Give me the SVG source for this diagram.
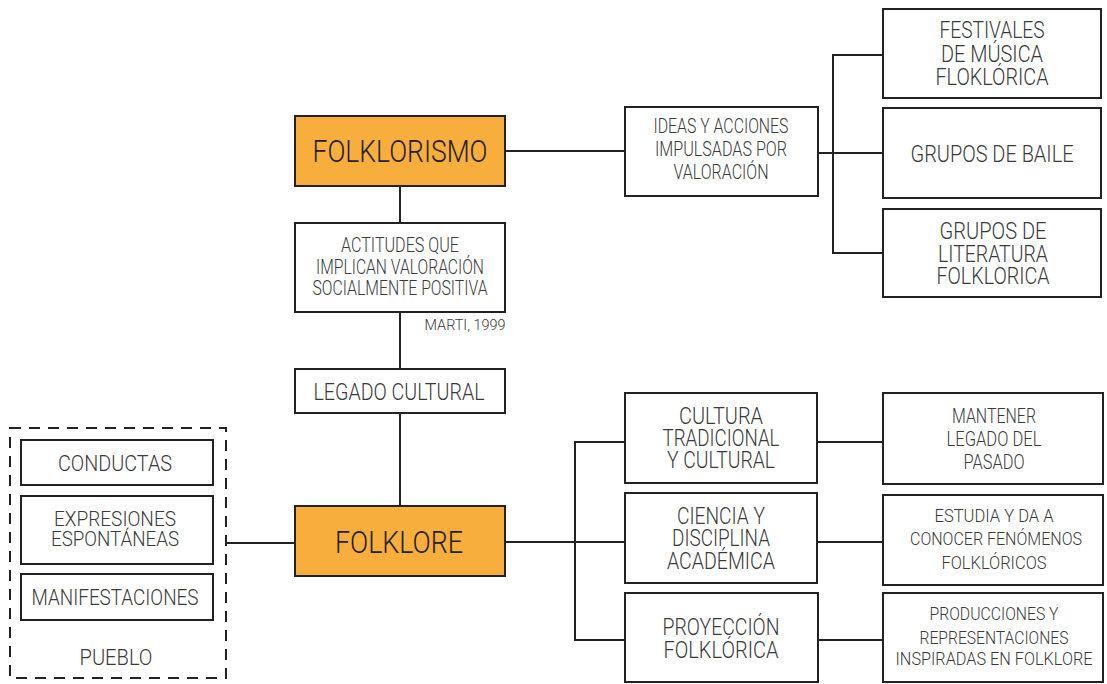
<svg xmlns="http://www.w3.org/2000/svg" width="1107" height="684" viewBox="0 0 1107 684">
  <style>
    .box { fill: #ffffff; stroke: #222222; stroke-width: 2; }
    .main { fill: #f8ae3d; stroke: #222222; stroke-width: 2; }
    .dash { fill: none; stroke: #222222; stroke-width: 2; stroke-dasharray: 11 8; }
    .link { fill: none; stroke: #222222; stroke-width: 2; }
    text { font-family: Roboto, "Liberation Sans", sans-serif; font-weight: 300; fill: #3a3a3a; text-anchor: middle; }
    .t32 { font-size: 32px; fill: #1e1e1e; }
    .t24 { font-size: 24px; }
    .t23 { font-size: 23px; }
    .t22 { font-size: 22px; }
    .t21 { font-size: 21px; }
    .t20 { font-size: 20px; }
    .t19 { font-size: 19px; }
    .t14 { font-size: 14px; }
  </style>

  <!-- connectors -->
  <g id="connectors">
    <line class="link" x1="400" y1="186" x2="400" y2="223"/>
    <line class="link" x1="400" y1="312" x2="400" y2="369"/>
    <line class="link" x1="400" y1="413" x2="400" y2="506"/>
    <line class="link" x1="505" y1="151" x2="625" y2="151"/>
    <polyline class="link" points="818,153 883,153"/>
    <polyline class="link" points="883,55 833,55 833,253 883,253"/>
    <line class="link" x1="226" y1="543" x2="295" y2="543"/>
    <line class="link" x1="505" y1="542" x2="625" y2="542"/>
    <polyline class="link" points="625,442 575,442 575,640 625,640"/>
    <line class="link" x1="818" y1="442" x2="883" y2="442"/>
    <line class="link" x1="818" y1="542" x2="883" y2="542"/>
    <line class="link" x1="818" y1="640" x2="883" y2="640"/>
  </g>

  <g id="folklorismo">
    <rect class="main" x="295" y="116" width="210" height="70"/>
    <text class="t32" x="400" y="162" textLength="175" lengthAdjust="spacingAndGlyphs">FOLKLORISMO</text>
  </g>

  <g id="actitudes">
    <rect class="box" x="295" y="223" width="210" height="89"/>
    <text class="t20" x="400" y="252" textLength="118" lengthAdjust="spacingAndGlyphs">ACTITUDES QUE</text>
    <text class="t20" x="400" y="274" textLength="168" lengthAdjust="spacingAndGlyphs">IMPLICAN VALORACIÓN</text>
    <text class="t20" x="400" y="295" textLength="175" lengthAdjust="spacingAndGlyphs">SOCIALMENTE POSITIVA</text>
    <text class="t14" x="465" y="330" textLength="81" lengthAdjust="spacingAndGlyphs">MARTI, 1999</text>
  </g>

  <g id="legado">
    <rect class="box" x="295" y="369" width="210" height="44"/>
    <text class="t24" x="399" y="400" textLength="171" lengthAdjust="spacingAndGlyphs">LEGADO CULTURAL</text>
  </g>

  <g id="folklore">
    <rect class="main" x="295" y="506" width="210" height="70"/>
    <text class="t32" x="399" y="553" textLength="128" lengthAdjust="spacingAndGlyphs">FOLKLORE</text>
  </g>

  <g id="ideas">
    <rect class="box" x="625" y="107" width="193" height="89"/>
    <text class="t20" x="721" y="133" textLength="135" lengthAdjust="spacingAndGlyphs">IDEAS Y ACCIONES</text>
    <text class="t20" x="721" y="156" textLength="132" lengthAdjust="spacingAndGlyphs">IMPULSADAS POR</text>
    <text class="t20" x="721" y="179" textLength="95" lengthAdjust="spacingAndGlyphs">VALORACIÓN</text>
  </g>

  <g id="festivales">
    <rect class="box" x="883" y="9" width="218" height="89"/>
    <text class="t23" x="992" y="38" textLength="105" lengthAdjust="spacingAndGlyphs">FESTIVALES</text>
    <text class="t23" x="992" y="62" textLength="102" lengthAdjust="spacingAndGlyphs">DE MÚSICA</text>
    <text class="t23" x="992" y="85" textLength="113" lengthAdjust="spacingAndGlyphs">FLOKLÓRICA</text>
  </g>

  <g id="baile">
    <rect class="box" x="883" y="108" width="218" height="90"/>
    <text class="t24" x="992" y="162" textLength="163" lengthAdjust="spacingAndGlyphs">GRUPOS DE BAILE</text>
  </g>

  <g id="literatura">
    <rect class="box" x="883" y="209" width="218" height="88"/>
    <text class="t23" x="993" y="239" textLength="107" lengthAdjust="spacingAndGlyphs">GRUPOS DE</text>
    <text class="t23" x="993" y="262" textLength="110" lengthAdjust="spacingAndGlyphs">LITERATURA</text>
    <text class="t23" x="993" y="284" textLength="113" lengthAdjust="spacingAndGlyphs">FOLKLORICA</text>
  </g>

  <g id="pueblo">
    <rect class="dash" x="10" y="428" width="216" height="250"/>
    <rect class="box" x="21" y="440" width="192" height="45"/>
    <text class="t22" x="115" y="471" textLength="114" lengthAdjust="spacingAndGlyphs">CONDUCTAS</text>
    <rect class="box" x="21" y="496" width="192" height="68"/>
    <text class="t21" x="115" y="526" textLength="122" lengthAdjust="spacingAndGlyphs">EXPRESIONES</text>
    <text class="t21" x="115" y="546" textLength="128" lengthAdjust="spacingAndGlyphs">ESPONTÁNEAS</text>
    <rect class="box" x="21" y="574" width="192" height="46"/>
    <text class="t22" x="115" y="605" textLength="167" lengthAdjust="spacingAndGlyphs">MANIFESTACIONES</text>
    <text class="t22" x="116" y="665" textLength="73" lengthAdjust="spacingAndGlyphs">PUEBLO</text>
  </g>

  <g id="cultura">
    <rect class="box" x="625" y="393" width="192" height="90"/>
    <text class="t23" x="721" y="424" textLength="84" lengthAdjust="spacingAndGlyphs">CULTURA</text>
    <text class="t23" x="721" y="446" textLength="117" lengthAdjust="spacingAndGlyphs">TRADICIONAL</text>
    <text class="t23" x="721" y="468" textLength="108" lengthAdjust="spacingAndGlyphs">Y CULTURAL</text>
  </g>

  <g id="ciencia">
    <rect class="box" x="625" y="493" width="192" height="90"/>
    <text class="t23" x="721" y="524" textLength="88" lengthAdjust="spacingAndGlyphs">CIENCIA Y</text>
    <text class="t23" x="721" y="546" textLength="98" lengthAdjust="spacingAndGlyphs">DISCIPLINA</text>
    <text class="t23" x="721" y="569" textLength="108" lengthAdjust="spacingAndGlyphs">ACADÉMICA</text>
  </g>

  <g id="proyeccion">
    <rect class="box" x="625" y="593" width="193" height="89"/>
    <text class="t23" x="721" y="635" textLength="117" lengthAdjust="spacingAndGlyphs">PROYECCIÓN</text>
    <text class="t23" x="721" y="658" textLength="115" lengthAdjust="spacingAndGlyphs">FOLKLÓRICA</text>
  </g>

  <g id="mantener">
    <rect class="box" x="883" y="393" width="220" height="91"/>
    <text class="t20" x="994" y="423" textLength="84" lengthAdjust="spacingAndGlyphs">MANTENER</text>
    <text class="t20" x="994" y="446" textLength="95" lengthAdjust="spacingAndGlyphs">LEGADO DEL</text>
    <text class="t20" x="994" y="469" textLength="61" lengthAdjust="spacingAndGlyphs">PASADO</text>
  </g>

  <g id="estudia">
    <rect class="box" x="883" y="495" width="220" height="90"/>
    <text class="t19" x="994" y="522" textLength="119" lengthAdjust="spacingAndGlyphs">ESTUDIA Y DA A</text>
    <text class="t19" x="996" y="545" textLength="172" lengthAdjust="spacingAndGlyphs">CONOCER FENÓMENOS</text>
    <text class="t19" x="994" y="569" textLength="105" lengthAdjust="spacingAndGlyphs">FOLKLÓRICOS</text>
  </g>

  <g id="producciones">
    <rect class="box" x="883" y="593" width="220" height="89"/>
    <text class="t19" x="994" y="620" textLength="129" lengthAdjust="spacingAndGlyphs">PRODUCCIONES Y</text>
    <text class="t19" x="994" y="644" textLength="149" lengthAdjust="spacingAndGlyphs">REPRESENTACIONES</text>
    <text class="t19" x="994" y="665" textLength="197" lengthAdjust="spacingAndGlyphs">INSPIRADAS EN FOLKLORE</text>
  </g>
</svg>
